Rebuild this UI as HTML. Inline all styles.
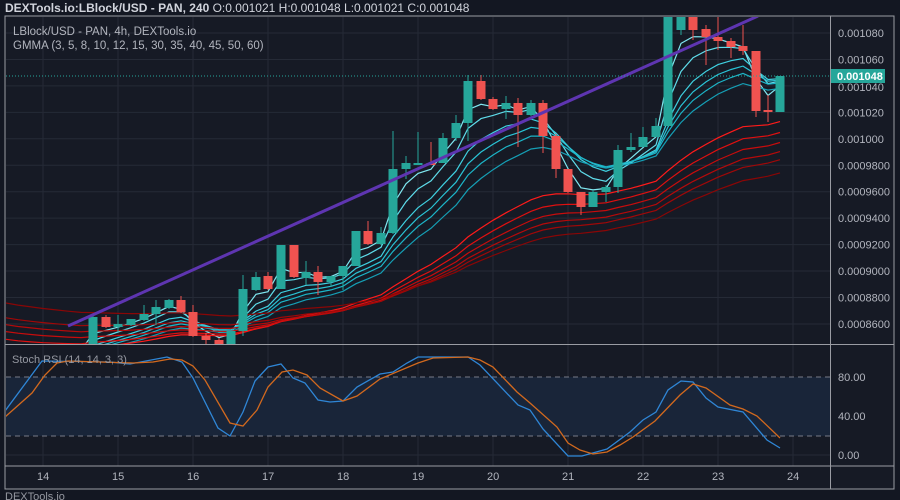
<!DOCTYPE html>
<html><head><meta charset="utf-8"><style>
html,body{margin:0;padding:0;background:#131722;}
body{width:900px;height:500px;overflow:hidden;font-family:"Liberation Sans",sans-serif;}
</style></head><body>
<svg id="s" width="900" height="500" xmlns="http://www.w3.org/2000/svg" style="position:absolute;left:0;top:0">
<rect width="900" height="500" fill="#131722"/>
<rect x="5" y="16" width="889" height="473" fill="#161a25" stroke="#9a9ca3" stroke-width="1"/>
<defs><clipPath id="cp"><rect x="6" y="17" width="824" height="327"/></clipPath>
<clipPath id="cs"><rect x="6" y="345" width="824" height="120"/></clipPath></defs>
<g id="grid" stroke="#252a36" stroke-width="1"></g>
<rect x="6" y="377" width="824" height="59" fill="#192539"/>
<line x1="6" y1="377" x2="830" y2="377" stroke="#787b86" stroke-dasharray="5,4"/>
<line x1="6" y1="436" x2="830" y2="436" stroke="#787b86" stroke-dasharray="5,4"/>
<g id="ema" clip-path="url(#cp)" fill="none" stroke-width="1.2"></g>
<g id="cand" clip-path="url(#cp)"></g>
<line x1="68" y1="326" x2="758" y2="16" stroke="#5e35b1" stroke-width="3" clip-path="url(#cp)"/>
<line x1="6" y1="76" x2="830" y2="76" stroke="#26a69a" stroke-dasharray="1,2" stroke-width="1"/>
<g id="stoch" clip-path="url(#cs)" fill="none" stroke-width="1.3"></g>
<line x1="5" y1="344.5" x2="894" y2="344.5" stroke="#9a9ca3"/>
<line x1="5" y1="466" x2="894" y2="466" stroke="#9a9ca3"/>
<line x1="830.5" y1="16" x2="830.5" y2="489" stroke="#9a9ca3"/>
<g id="lab" font-size="11" fill="#b2b5be"></g>
<rect x="831" y="69" width="54" height="14" fill="#26a69a"/>
<text x="837" y="80" font-size="11" fill="#fff" font-weight="bold">0.001048</text>
<text x="5" y="12" font-size="12" fill="#d1d4dc"><tspan font-weight="bold">DEXTools.io:LBlock/USD - PAN, 240</tspan> O:0.001021 H:0.001048 L:0.001021 C:0.001048</text>
<text x="13" y="35" font-size="11.5" fill="#b2b5be">LBlock/USD - PAN, 4h, DEXTools.io</text>
<text x="13" y="49" font-size="11.5" fill="#b2b5be">GMMA (3, 5, 8, 10, 12, 15, 30, 35, 40, 45, 50, 60)</text>
<text x="12" y="363" font-size="11" fill="#9598a1">Stoch RSI (14, 14, 3, 3)</text>
<text x="5" y="500" font-size="11" fill="#9598a1">DEXTools.io</text>
</svg>
<script>
var NS="http://www.w3.org/2000/svg";
function el(p,t,a,txt){var e=document.createElementNS(NS,t);for(var k in a)e.setAttribute(k,a[k]);if(txt!==undefined)e.textContent=txt;document.getElementById(p).appendChild(e);return e;}
// grid
var dx=[43,118,193,268,343,418,493,568,643,718,793];
dx.forEach(function(x,i){el("grid","line",{x1:x,y1:17,x2:x,y2:466});el("lab","text",{x:x-6,y:480,"font-size":11},String(14+i));});
var pl=["0.001080","0.001060","0.001040","0.001020","0.001000","0.0009800","0.0009600","0.0009400","0.0009200","0.0009000","0.0008800","0.0008600"];
pl.forEach(function(t,i){var y=33+i*26.45;el("grid","line",{x1:6,y1:y,x2:830,y2:y});if(i!=2)el("lab","text",{x:838,y:y+4},t);});
el("lab","text",{x:838,y:91},"0.001040");
[[416,"40.00"],[455,"0.00"]].forEach(function(a){el("grid","line",{x1:6,y1:a[0],x2:830,y2:a[0]});});
[[377,"80.00"],[416,"40.00"],[455,"0.00"]].forEach(function(a){el("lab","text",{x:838,y:a[0]+4},a[1]);});
// candles [x,top,bottom,green?,wt,wb]
var C=[[6,352,362,0],[18,358,366,0],[31,360,364,1],[43,356,360,1],[56,352,356,1],[68,350,354,1],[81,348,352,1],
[93,317,350,1,316,350],[106,317,327,0,315,328],[118,324,327,1,315,332],[131,319,325,1,319,326],[144,314,320,1,305,321],[156,307,314,1,300,325],[169,300,308,1,299,309],[181,300,312,0,296,313],[193,312,336,0,305,337],[206,336,340,0,333,344],[219,340,344,0,338,346],[231,331,346,1,331,346],
[243,289,331,1,275,336],[256,277,290,1,272,291],[268,276,289,0,272,290],[281,245,289,1,245,289],[294,245,277,0,245,278],[306,272,278,1,261,285],[318,272,282,0,266,295],[331,276,282,1,276,287],[343,266,276,1,266,290],[356,231,266,1,231,266],[368,231,244,0,221,245],[381,233,244,1,227,245],[393,169,233,1,131,234],[406,163,169,1,156,179],[418,163,165,1,132,165],[431,163,165,0,142,165],
[443,138,163,1,133,163],[456,123,138,1,115,141],[468,81,123,1,75,141],[481,81,99,0,75,100],[493,99,109,0,97,110],[506,103,109,1,96,119],[518,103,115,0,98,147],[531,103,115,1,100,116],[543,103,136,0,100,153],[556,136,169,0,134,178],[568,169,192,0,169,193],[581,192,207,0,192,215],[593,192,207,1,190,207],[606,187,192,1,185,202],[618,150,187,1,145,193],[631,147,150,1,133,152],[643,137,147,1,127,147],[656,126,137,1,118,137],[668,17,126,1,10,126],[681,10,30,1,5,35],
[693,17,30,0,10,40],[706,29,37,0,25,65],[718,37,41,0,17,50],[731,41,47,0,38,58],[743,46,51,0,25,55],[756,51,111,0,51,117],[768,110,112,0,95,122],[780,76,112,1,76,112]];
C.forEach(function(c){var col=c[3]?"#26a69a":"#ef5350";
 if(c[4]!==undefined)el("cand","line",{x1:c[0],y1:c[4],x2:c[0],y2:c[5],stroke:col,"stroke-width":1});
 el("cand","rect",{x:c[0]-4.5,y:c[1],width:9,height:Math.max(1.5,c[2]-c[1]),fill:col});});
// EMAs
var sp=[[3,355,"#7fe7f0"],[5,355,"#5fdcea"],[8,356,"#3fd0e0"],[10,357,"#2ac4d6"],[12,358,"#1cb5c8"],[15,360,"#159fb5"]];
var lp=[[30,346,"#ff1a1a"],[35,338,"#e01010"],[40,330,"#c80c0c"],[45,323,"#b50a0a"],[50,316,"#a00808"],[60,301,"#8a0606"]];
sp.concat(lp).forEach(function(e){var a=2/(e[0]+1),v=e[1],pts=[];
 C.forEach(function(c){var cl=c[3]?c[1]:c[2];v=v+a*(cl-v);pts.push(c[0]+","+v.toFixed(1));});
 el("ema","polyline",{points:pts.join(" "),stroke:e[2]});});
// stoch
var blue="5,411 42,361 110,362 130,364 167,357 182,362 193,378 218,428 230,436 243,412 255,381 268,367 281,364 293,378 305,383 318,400 330,402 343,401 357,387 380,374 393,372 407,363 418,357 468,357 480,365 518,405 530,410 543,429 568,456 582,456 607,449 630,432 643,420 656,412 668,390 681,381 693,382 706,398 718,407 743,412 767,440 780,448";
var org="5,417 32,393 45,375 57,363 68,361 100,362 133,363 153,362 170,359 182,360 193,366 205,380 230,423 243,426 257,410 268,387 282,372 293,370 307,375 320,388 343,401 357,396 380,379 418,363 433,358 468,357 480,360 493,367 517,392 530,403 557,427 568,443 580,450 593,454 607,452 620,445 633,437 655,421 680,395 693,384 706,388 730,405 743,409 757,416 780,438";
el("stoch","polyline",{points:blue,stroke:"#2f86d6"});
el("stoch","polyline",{points:org,stroke:"#d2691e"});
</script>
</body></html>
